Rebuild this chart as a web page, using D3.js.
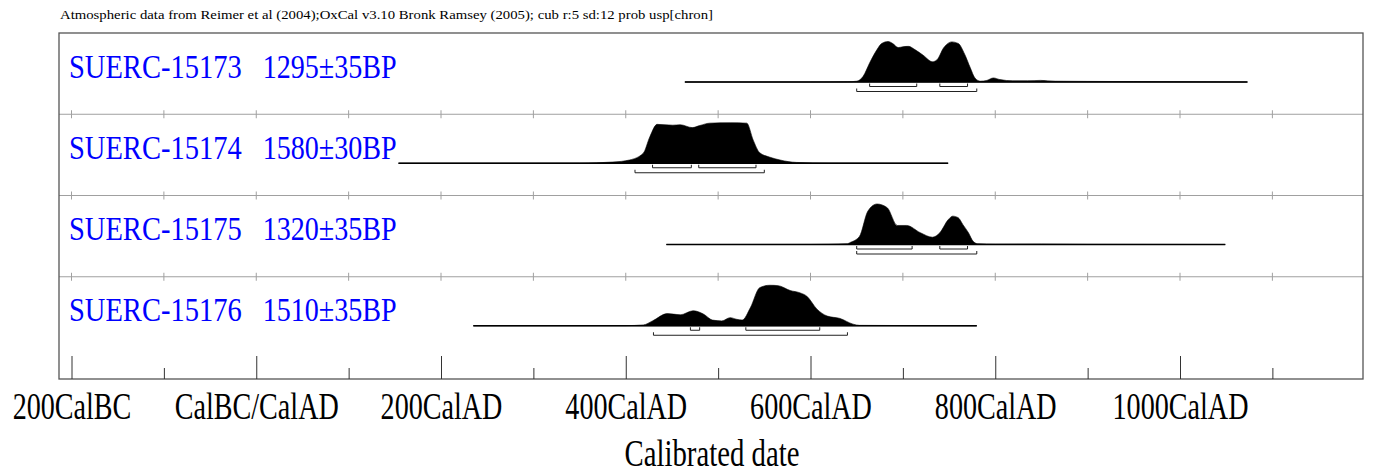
<!DOCTYPE html>
<html>
<head>
<meta charset="utf-8">
<script src="https://cdn.jsdelivr.net/npm/d3@7"></script>
<style>
  body { margin: 0; background: #fff; }
  svg { display: block; }
</style>
</head>
<body>
<div id="chart"></div>
<script>
// Chart data
const header = 'Atmospheric data from Reimer et al (2004);OxCal v3.10 Bronk Ramsey (2005); cub r:5 sd:12 prob usp[chron]';
const labCodes = ['SUERC-15173', 'SUERC-15174', 'SUERC-15175', 'SUERC-15176'];
const bpDates = ['1295±35BP', '1580±30BP', '1320±35BP', '1510±35BP'];

// [calendar year, relative probability]
const prob15173 = [[464,0],[600,0],[640,0.005],[650,0.02],[657,0.14],[664,0.47],[672,0.8],[677,0.95],[684,1.0],[689,0.95],
  [695,0.85],[700,0.87],[706,0.88],[713,0.8],[722,0.66],[732,0.5],[737,0.55],[744,0.84],[753,0.99],[760,0.95],[767,0.68],
  [773,0.35],[778,0.1],[784,0.02],[791,0.04],[798,0.1],[805,0.06],[819,0.03],[835,0.03],[849,0.04],[865,0.02],[900,0.015],
  [950,0.01],[1073,0]];
const prob15174 = [[154,0],[350,0.003],[386,0.03],[404,0.08],[419,0.25],[426,0.65],[434,0.96],[451,0.94],[459,0.95],
  [472,0.88],[480,0.93],[491,0.99],[513,1.0],[531,0.99],[538,0.57],[545,0.26],[556,0.15],[567,0.08],[585,0.02],[620,0.005],
  [749,0]];
const prob15175 = [[444,0],[600,0.003],[640,0.02],[643,0.05],[653,0.2],[662,0.82],[672,1.0],[683,0.91],[694,0.47],
  [704,0.47],[719,0.29],[732,0.18],[740,0.29],[749,0.61],[754,0.7],[760,0.66],[765,0.49],[771,0.29],[776,0.08],[781,0.02],
  [800,0.01],[850,0.012],[900,0.005],[1049,0]];
const prob15176 = [[235,0],[400,0.003],[419,0.02],[429,0.12],[445,0.3],[459,0.27],[473,0.37],[484,0.29],[494,0.14],
  [504,0.12],[513,0.2],[520,0.16],[526,0.14],[535,0.45],[545,0.94],[556,1.0],[565,0.99],[578,0.87],[589,0.81],[596,0.73],
  [607,0.41],[618,0.24],[632,0.18],[646,0.04],[653,0.01],[780,0]];

// 68.2% and 95.4% ranges (cal years)
const range68 = [[[664,715],[740,770]], [[429,471],[479,541]], [[650,710],[740,770]], [[470,480],[530,610]]];
const range95 = [[[650,780]], [[410,550]], [[650,780]], [[430,640]]];

const majorTicks = [-200, 0, 200, 400, 600, 800, 1000];
const minorTicks = [-100, 100, 300, 500, 700, 900, 1100];
const tickLabels = ['200CalBC', 'CalBC/CalAD', '200CalAD', '400CalAD', '600CalAD', '800CalAD', '1000CalAD'];

const dists = [prob15173, prob15174, prob15175, prob15176];

const serif = '"Liberation Serif", "Times New Roman", serif';
const w = 1374, h = 473;
const frame = {left: 59, right: 1363, top: 33, bottom: 379};

const svg = d3.select('#chart').append('svg')
  .attr('width', w)
  .attr('height', h)
  .attr('font-family', serif);

const x = d3.scaleLinear().domain([-200, 1000]).range([71.5, 1180]);
const panel = d3.scaleBand().domain(labCodes).range([frame.top, 358]);
const peak = d3.scaleLinear().domain([0, 1]).range([0, 40.5]);

// squeeze text horizontally, like the narrow Times of the original
function squeeze(sel, k) {
  sel.each(function() {
    const len = this.getComputedTextLength();
    d3.select(this).attr('textLength', len * k).attr('lengthAdjust', 'spacingAndGlyphs');
  });
}

// header
svg.append('text')
  .attr('x', 60)
  .attr('y', 19)
  .attr('font-family', serif)
  .attr('font-size', '13.5px')
  .attr('textLength', 653)
  .attr('lengthAdjust', 'spacingAndGlyphs')
  .text(header);

// panel separators with small ticks
const sepTicks = majorTicks.concat(minorTicks);
labCodes.slice(1).forEach(code => {
  const y = panel(code);
  const g = svg.append('g');
  g.append('line')
    .attr('x1', frame.left).attr('x2', frame.right)
    .attr('y1', y).attr('y2', y)
    .attr('stroke', '#a0a0a0').attr('stroke-width', 1);
  g.selectAll('line.tk')
    .data(sepTicks)
    .enter()
    .append('line')
    .attr('class', 'tk')
    .attr('x1', d => x(d)).attr('x2', d => x(d))
    .attr('y1', y - 4).attr('y2', y + 4)
    .attr('stroke', '#a0a0a0').attr('stroke-width', 1);
});

const area = d3.area()
  .x(d => x(d[0]))
  .y0(0)
  .y1(d => -peak(d[1]))
  .curve(d3.curveMonotoneX);

labCodes.forEach((code, i) => {
  const top = panel(code);
  const base = top + 49;
  const g = svg.append('g').attr('transform', `translate(0, ${base})`);
  const data = dists[i];

  // baseline across the full calibrated range
  g.append('line')
    .attr('x1', x(data[0][0]))
    .attr('x2', x(data[data.length - 1][0]))
    .attr('y1', 0).attr('y2', 0)
    .attr('stroke', '#000').attr('stroke-width', 1.6);

  g.append('path')
    .datum(data)
    .attr('d', area)
    .attr('fill', '#000')
    .attr('stroke', '#000')
    .attr('stroke-width', 0.6);

  // range brackets
  const brackets = range68[i].map(r => ({r, dy: 4.5}))
    .concat(range95[i].map(r => ({r, dy: 9.5})));
  brackets.forEach(b => {
    g.append('path')
      .attr('d', `M${x(b.r[0])},${b.dy - 3}V${b.dy}H${x(b.r[1])}V${b.dy - 3}`)
      .attr('fill', 'none')
      .attr('stroke', '#222')
      .attr('stroke-width', 1);
  });

  // titles
  svg.append('text')
    .attr('x', 69)
    .attr('y', top + 44.7)
    .attr('font-size', '33px')
    .attr('fill', '#0000ff')
    .attr('textLength', 172.7)
    .attr('lengthAdjust', 'spacingAndGlyphs')
    .text(code);
  svg.append('text')
    .attr('x', 262.7)
    .attr('y', top + 44.7)
    .attr('font-size', '33px')
    .attr('fill', '#0000ff')
    .attr('textLength', 134)
    .attr('lengthAdjust', 'spacingAndGlyphs')
    .text(bpDates[i]);
});

// frame
svg.append('rect')
  .attr('x', frame.left).attr('y', frame.top)
  .attr('width', frame.right - frame.left)
  .attr('height', frame.bottom - frame.top)
  .attr('fill', 'none')
  .attr('stroke', '#555')
  .attr('stroke-width', 1.3);

// axis: major ticks with labels, minor ticks without
const xAxis = d3.axisBottom(x)
  .tickValues(majorTicks)
  .tickSizeInner(-23)
  .tickSizeOuter(0)
  .tickPadding(12.6)
  .tickFormat((d, i) => tickLabels[i]);

const axisG = svg.append('g')
  .attr('transform', `translate(0, ${frame.bottom})`)
  .call(xAxis);
axisG.select('.domain').remove();
axisG.attr('font-family', serif);
axisG.selectAll('line').attr('stroke', '#333');
axisG.selectAll('text')
  .attr('font-size', '38px')
  .attr('fill', '#000')
  .call(squeeze, 0.74);

const minorAxis = d3.axisBottom(x)
  .tickValues(minorTicks)
  .tickSizeInner(-11)
  .tickSizeOuter(0)
  .tickFormat('');
const minorG = svg.append('g')
  .attr('transform', `translate(0, ${frame.bottom})`)
  .call(minorAxis);
minorG.select('.domain').remove();
minorG.selectAll('line').attr('stroke', '#333');

// axis title
svg.append('text')
  .attr('x', 712)
  .attr('y', 466)
  .attr('text-anchor', 'middle')
  .attr('font-size', '37px')
  .attr('textLength', 175)
  .attr('lengthAdjust', 'spacingAndGlyphs')
  .text('Calibrated date');
</script>
</body>
</html>
